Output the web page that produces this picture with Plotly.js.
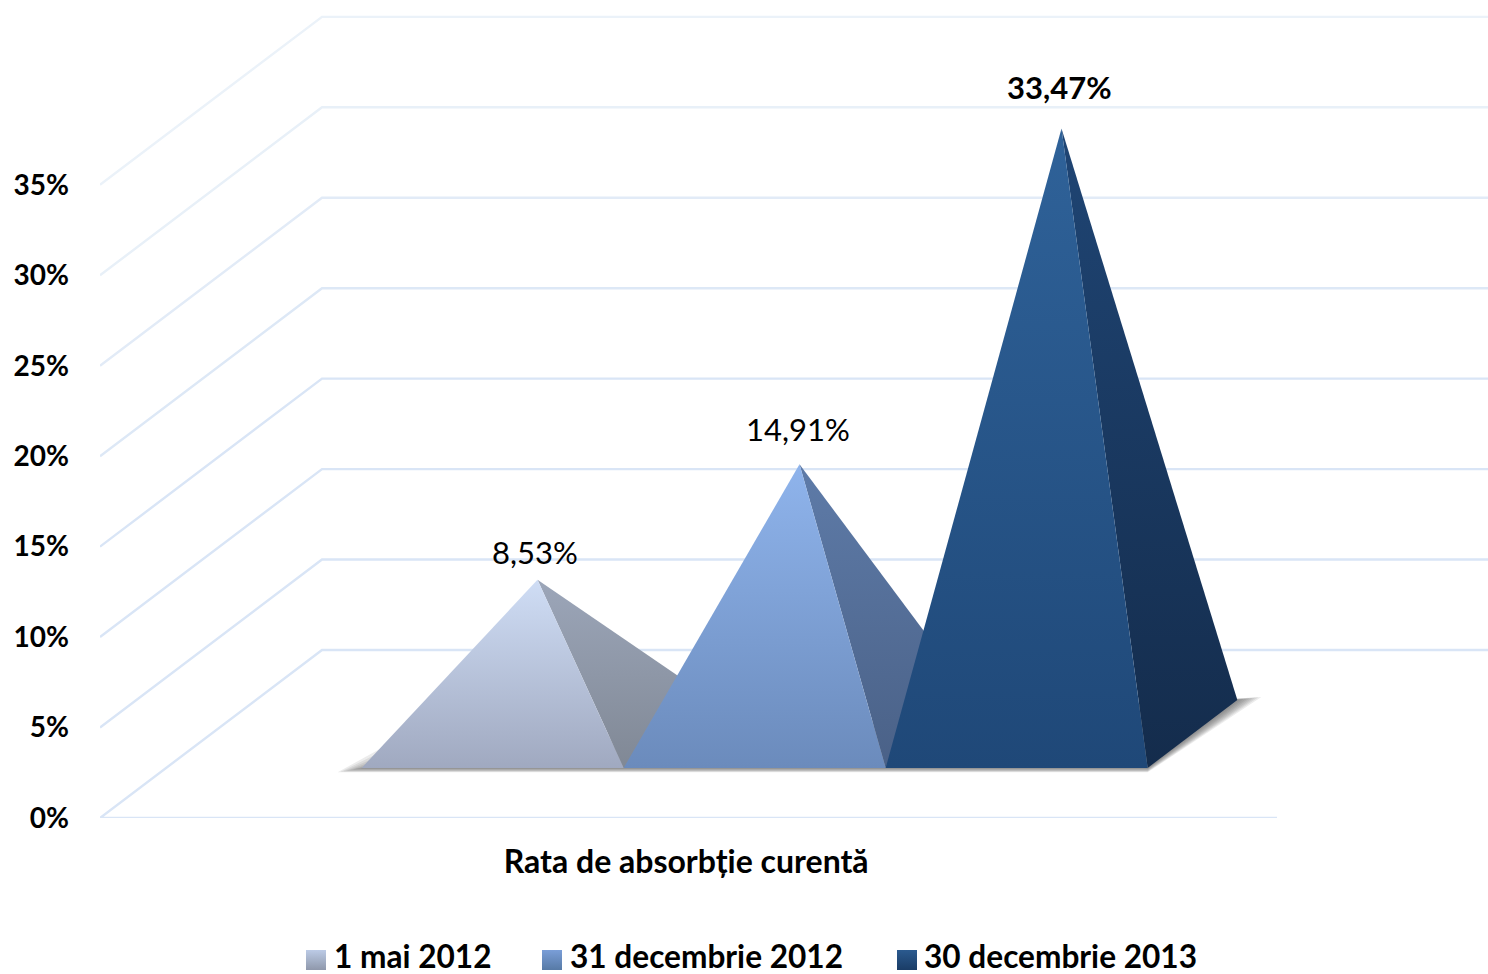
<!DOCTYPE html>
<html>
<head>
<meta charset="utf-8">
<script src="https://cdn.plot.ly/plotly-3.0.1.min.js"></script>
<style>html,body{margin:0;padding:0;background:#fff}#c{width:1488px;height:974px}</style>
</head>
<body>
<div id="c"></div>
<script>
// ---- data ----
const categoryLabel = 'Rata de absorbție curentă';
const seriesNames = ['1 mai 2012', '31 decembrie 2012', '30 decembrie 2013'];
const seriesValues = [8.53, 14.91, 33.47];
const valueLabels = ['8,53%', '14,91%', '<b>33,47%</b>'];
const yTicks = [0, 5, 10, 15, 20, 25, 30, 35];
const yTickLabels = ['0%', '5%', '10%', '15%', '20%', '25%', '30%', '35%'];

// ---- styles ----
const W = 1488, H = 974, L = 100, B = 156;
const FONT = 'Lato, Carlito, "Open Sans", sans-serif';
const pxX = 1177, pxY = 18.09;              // pixels per x unit / per percent
const depthX = 222 / pxX, depthY = 168 / pxY; // oblique vector of the floor
const baseFront = 0.298, baseBack = 0.702, apexDepth = 0.5;
const slot = 262 / pxX, firstSlot = 195.5 / pxX;
const frontCols = [['#a0a9c0', '#cfddf5'], ['#6b8bbc', '#8fb4ec'], ['#1f4878', '#2f6299']];
const sideCols  = [['#808895', '#9ca6b9'], ['#4a6187', '#5e7ba8'], ['#142c4c', '#1f4574']];
const legendCols = [['#bccbe6', '#8f98ab'], ['#7a9ed8', '#577aa6'], ['#2b5a8f', '#1a3c66']];
const legendTextX = [294, 530, 884], swatchX = [316, 552, 907], swatchY = 960;
const labelShift = [{x: -3, y: 28}, {x: -2, y: 35}, {x: -2, y: 42}];
const gridCols = ['#d9e5f6', '#d9e5f6', '#d9e5f6', '#d9e5f6', '#dde8f6', '#e2ebf7', '#e8f0f8', '#ebf2f9'];

const P = (x, v, d) => [x + d * depthX, v + d * depthY];
const poly = pts => ({x: pts.map(p => p[0]), y: pts.map(p => p[1])});
const traces = [];

// gridlines: front edge -> back wall -> right
yTicks.forEach((t, i) => {
  const pts = [[0, t], P(0, t, 1), P(1, t, 1)];
  if (t === 0) pts.unshift([1, 0]);
  traces.push({...poly(pts), mode: 'lines', line: {color: gridCols[i], width: 2.4},
    hoverinfo: 'skip', showlegend: false});
});

// soft floor shadow, from the base outline of the row of pyramids
const rowL = firstSlot, rowR = firstSlot + 3 * slot;
for (let k = 8; k >= 1; k--) {
  const ox = k * 3 / pxX, oy = k * 0.55 / pxY;
  const a = P(rowL - ox, -oy, baseFront), b = P(rowR, -oy, baseFront);
  const c = P(rowR + ox, oy * 0.7, baseBack), d = P(rowR - 0.02, 0, baseBack);
  const e = P(rowL + 0.02 + (8 - k) * 0.002, oy * 5, baseFront);
  traces.push({...poly([a, b, c, d, e, a]), mode: 'lines', fill: 'toself', fillcolor: 'rgba(70,70,70,0.1)',
    line: {width: 0}, hoverinfo: 'skip', showlegend: false});
}

// pyramids
seriesValues.forEach((v, i) => {
  const x0 = firstSlot + i * slot, x1 = x0 + slot, xc = (x0 + x1) / 2;
  const apex = P(xc, v, apexDepth);
  const fl = P(x0, 0, baseFront), fr = P(x1, 0, baseFront), br = P(x1, 0, baseBack);
  const grad = c => ({type: 'vertical', colorscale: [[0, c[0]], [1, c[1]]]});
  traces.push({...poly([fr, br, apex, fr]), mode: 'lines', fill: 'toself', line: {width: 0},
    fillgradient: grad(sideCols[i]), hoverinfo: 'skip', showlegend: false});
  traces.push({...poly([fl, fr, apex, fl]), mode: 'lines', fill: 'toself', line: {width: 0},
    fillgradient: grad(frontCols[i]), hoverinfo: 'skip', showlegend: false});
});

// legend entries: text comes from the real legends; the 20px swatches are drawn
// on a full-page helper axis because legend markers are capped at 16px
seriesNames.forEach((n, i) => {
  traces.push({x: [null], y: [null], name: n, mode: 'markers', legend: i ? 'legend' + (i + 1) : 'legend',
    marker: {symbol: 'square', size: 16, color: 'rgba(0,0,0,0)', line: {width: 0}},
    hoverinfo: 'skip', showlegend: true});
  traces.push({x: [swatchX[i]], y: [swatchY], xaxis: 'x2', yaxis: 'y2', mode: 'markers', showlegend: false,
    marker: {symbol: 'square', size: 20, color: legendCols[i][0],
      gradient: {type: 'vertical', color: legendCols[i][1]}, line: {width: 0}}, hoverinfo: 'skip'});
});

const annotations = seriesValues.map((v, i) => {
  const a = P(firstSlot + (i + 0.5) * slot, v, apexDepth);
  return {x: a[0], y: a[1], text: valueLabels[i], showarrow: false, xanchor: 'center', yanchor: 'middle',
    xshift: labelShift[i].x, yshift: labelShift[i].y, font: {family: FONT, size: 31, color: '#000'}};
});

const legendBase = px => ({orientation: 'h', xref: 'paper', yref: 'paper',
  x: px / W, xanchor: 'left', y: -10 / H, yanchor: 'bottom', itemclick: false, itemdoubleclick: false,
  bgcolor: 'rgba(0,0,0,0)', borderwidth: 0, font: {family: FONT, size: 31.6, color: '#000', weight: 700}});

const layout = {
  width: W, height: H, paper_bgcolor: '#fff', plot_bgcolor: 'rgba(0,0,0,0)',
  margin: {l: 0, r: 0, t: 0, b: 0, pad: 0, autoexpand: false}, showlegend: true,
  font: {family: FONT, color: '#000'},
  legend: legendBase(legendTextX[0]), legend2: legendBase(legendTextX[1]), legend3: legendBase(legendTextX[2]),
  xaxis: {domain: [L / W, 1], range: [0, (W - L) / pxX], showgrid: false, zeroline: false, showline: false,
    tickmode: 'array', tickvals: [0.498], ticktext: [categoryLabel], ticks: '', automargin: false,
    ticklabelstandoff: 22, tickfont: {family: FONT, size: 32, color: '#000', weight: 700}},
  yaxis: {domain: [B / H, 1], range: [0, (H - B) / pxY], showgrid: false, zeroline: false, showline: false,
    tickmode: 'array', tickvals: yTicks, ticktext: yTickLabels, ticks: '', automargin: false,
    ticklabelstandoff: 30, tickfont: {family: FONT, size: 28, color: '#000', weight: 700}},
  xaxis2: {domain: [0, 1], range: [0, W], visible: false, anchor: 'y2', fixedrange: true},
  yaxis2: {domain: [0, 1], range: [H, 0], visible: false, anchor: 'x2', fixedrange: true},
  annotations
};
Plotly.newPlot('c', traces, layout, {displayModeBar: false});
</script>
</body>
</html>
